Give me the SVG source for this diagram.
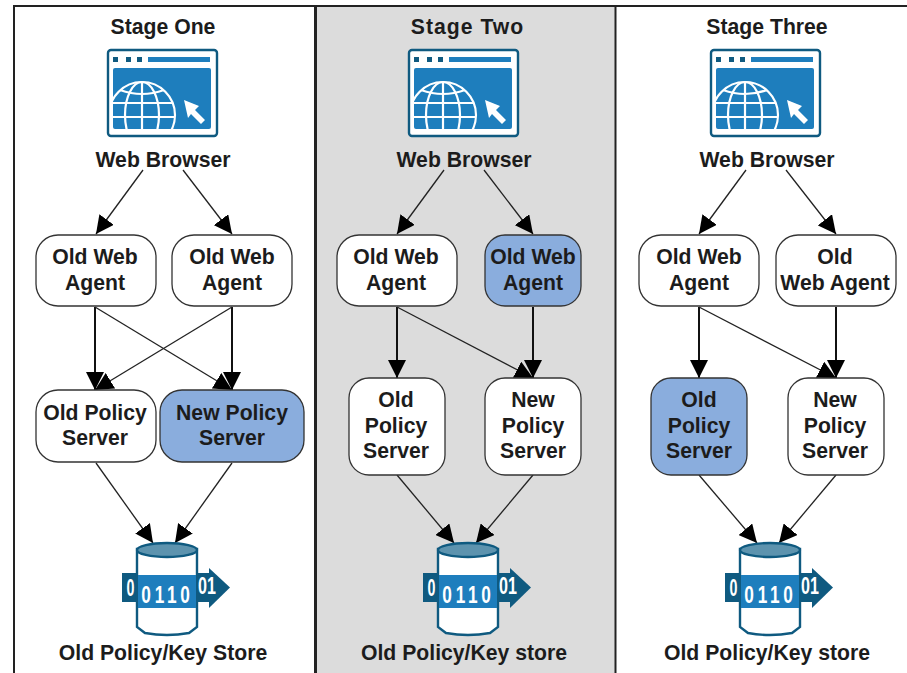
<svg xmlns="http://www.w3.org/2000/svg" width="907" height="673" viewBox="0 0 907 673">
<style>
text{font-family:"Liberation Sans",Arial,sans-serif;font-weight:bold;font-size:21.2px;fill:#1c1c1c;text-anchor:middle}
.n{fill:#fff;stroke:#333;stroke-width:1.3}
.b{fill:#8aaddd;stroke:#333;stroke-width:1.3}
.c{fill:none;stroke:#222;stroke-width:1.3;marker-end:url(#a)}
.v{fill:none;stroke:#111;stroke-width:2;marker-end:url(#a)}
.f{stroke:#222;fill:none}
.g{fill:none;stroke:#fff;stroke-width:2.2}
text.w{font-size:23px;fill:#fff}
</style>
<defs>
<marker id="a" markerUnits="userSpaceOnUse" markerWidth="18" markerHeight="18" refX="18" refY="9" orient="auto"><path d="M0 0L18 9L0 18Z" fill="#000"/></marker>
<clipPath id="p"><rect x="113" y="68" width="98" height="61"/></clipPath>
<g id="web">
<rect x="108" y="50" width="109" height="86" rx="3" fill="#fff" stroke="#0f5a80" stroke-width="2.4"/>
<rect x="113" y="57" width="5" height="5" fill="#0f5a80"/><rect x="126" y="57" width="5" height="5" fill="#0f5a80"/><rect x="137" y="57" width="5" height="5" fill="#0f5a80"/>
<rect x="148" y="57" width="62" height="5" fill="#1e7ebd"/>
<rect x="113" y="68" width="98" height="61" rx="2" fill="#1e7ebd"/>
<g clip-path="url(#p)" class="g">
<circle cx="142" cy="115" r="33"/>
<ellipse cx="142" cy="115" rx="17" ry="33"/>
<path d="M142 82V129M109 117H175M112 103H172M120 90Q142 98 164 90"/>
</g>
<rect x="113" y="129" width="98" height="5" fill="#fff"/>
<path d="M184 100L199 106L195 110L205 120L201 124L191 114L188 118Z" fill="#fff"/>
</g>
<g id="db">
<rect x="122" y="573" width="16" height="29" fill="#0f5a80"/>
<rect x="196" y="573" width="14" height="29" fill="#0f5a80"/>
<path d="M209 568L230 587.500L209 608Z" fill="#0f5a80"/>
<path d="M137 549V627L145 633Q167 637 189 633L197 627V549Z" fill="#fff" stroke="#0f5a80" stroke-width="2.4"/>
<rect x="138" y="575" width="58" height="33" fill="#1e7ebd"/>
<ellipse cx="167" cy="550" rx="30" ry="7" fill="#5d93ae" stroke="#0f5a80" stroke-width="2.4"/>
<text class="w" transform="translate(130.500 596) scale(.62 1)">0</text>
<text class="w" transform="translate(167.500 603) scale(.75 1)" letter-spacing="5">0110</text>
<text class="w" transform="translate(207 594) scale(.7 1)">01</text>
</g>
</defs>
<rect width="907" height="673" fill="#fff"/>
<rect x="316" y="6" width="299" height="667" fill="#dcdcdc"/>
<g id="frame">
<path class="f" stroke-width="2" d="M14 673V6H907"/>
<path class="f" stroke-width="3" d="M315.500 6V673"/>
<path class="f" stroke-width="2" d="M615.500 6V673"/>
</g>
<g id="connectors">
<path class="c" d="M143 170L96 234"/><path class="c" d="M183 170L232 234"/>
<path class="v" d="M95 307V390"/><path class="v" d="M232 307V390"/><path class="c" d="M95 307L232 390"/><path class="c" d="M232 307L95 390"/>
<path class="c" d="M96 463L153 543"/><path class="c" d="M232 463L175 543"/>
<path class="c" d="M444 170L397 234"/><path class="c" d="M484 170L533 234"/>
<path class="v" d="M397 307V378"/><path class="v" d="M533 307V378"/><path class="c" d="M397 307L533 378"/>
<path class="c" d="M397 475L454 543"/><path class="c" d="M533 475L476 543"/>
<path class="c" d="M746 170L699 234"/><path class="c" d="M786 170L836 234"/>
<path class="v" d="M699 307V378"/><path class="v" d="M836 307V378"/><path class="c" d="M699 307L836 378"/>
<path class="c" d="M699 475L757 543"/><path class="c" d="M836 475L779 543"/>
</g>
<text x="163" y="34">Stage One</text>
<text x="467.500" y="34" letter-spacing="1">Stage Two</text>
<text x="767" y="34">Stage Three</text>
<g id="browser1"><use href="#web"/><text x="163" y="167">Web Browser</text></g>
<g id="browser2"><use href="#web" x="301"/><text x="464" y="167">Web Browser</text></g>
<g id="browser3"><use href="#web" x="603"/><text x="767" y="167">Web Browser</text></g>
<g id="s1-agent1"><rect class="n" x="36" y="235" width="120" height="71" rx="22"/><text x="95" y="264">Old Web</text><text x="95" y="290">Agent</text></g>
<g id="s1-agent2"><rect class="n" x="172" y="235" width="120" height="71" rx="22"/><text x="232" y="264">Old Web</text><text x="232" y="290">Agent</text></g>
<g id="s1-old"><rect class="n" x="36" y="390" width="120" height="72" rx="22"/><text x="95" y="420">Old Policy</text><text x="95" y="445">Server</text></g>
<g id="s1-new"><rect class="b" x="160" y="390" width="144" height="72" rx="22"/><text x="232" y="420">New Policy</text><text x="232" y="445">Server</text></g>
<g id="s2-agent1"><rect class="n" x="337" y="235" width="120" height="71" rx="22"/><text x="396" y="264">Old Web</text><text x="396" y="290">Agent</text></g>
<g id="s2-agent2"><rect class="b" x="485" y="235" width="96" height="71" rx="20"/><text x="533" y="264">Old Web</text><text x="533" y="290">Agent</text></g>
<g id="s2-old"><rect class="n" x="349" y="378" width="96" height="97" rx="20"/><text x="396" y="407">Old</text><text x="396" y="433">Policy</text><text x="396" y="458">Server</text></g>
<g id="s2-new"><rect class="n" x="485" y="378" width="96" height="97" rx="20"/><text x="533" y="407">New</text><text x="533" y="433">Policy</text><text x="533" y="458">Server</text></g>
<g id="s3-agent1"><rect class="n" x="639" y="235" width="120" height="71" rx="22"/><text x="699" y="264">Old Web</text><text x="699" y="290">Agent</text></g>
<g id="s3-agent2"><rect class="n" x="776" y="235" width="120" height="71" rx="22"/><text x="835" y="264">Old</text><text x="835" y="290">Web Agent</text></g>
<g id="s3-old"><rect class="b" x="651" y="378" width="96" height="97" rx="20"/><text x="699" y="407">Old</text><text x="699" y="433">Policy</text><text x="699" y="458">Server</text></g>
<g id="s3-new"><rect class="n" x="788" y="378" width="96" height="97" rx="20"/><text x="835" y="407">New</text><text x="835" y="433">Policy</text><text x="835" y="458">Server</text></g>
<g id="store1"><use href="#db"/><text x="163" y="660">Old Policy/Key Store</text></g>
<g id="store2"><use href="#db" x="301"/><text x="464" y="660">Old Policy/Key store</text></g>
<g id="store3"><use href="#db" x="603"/><text x="767" y="660">Old Policy/Key store</text></g>
</svg>
